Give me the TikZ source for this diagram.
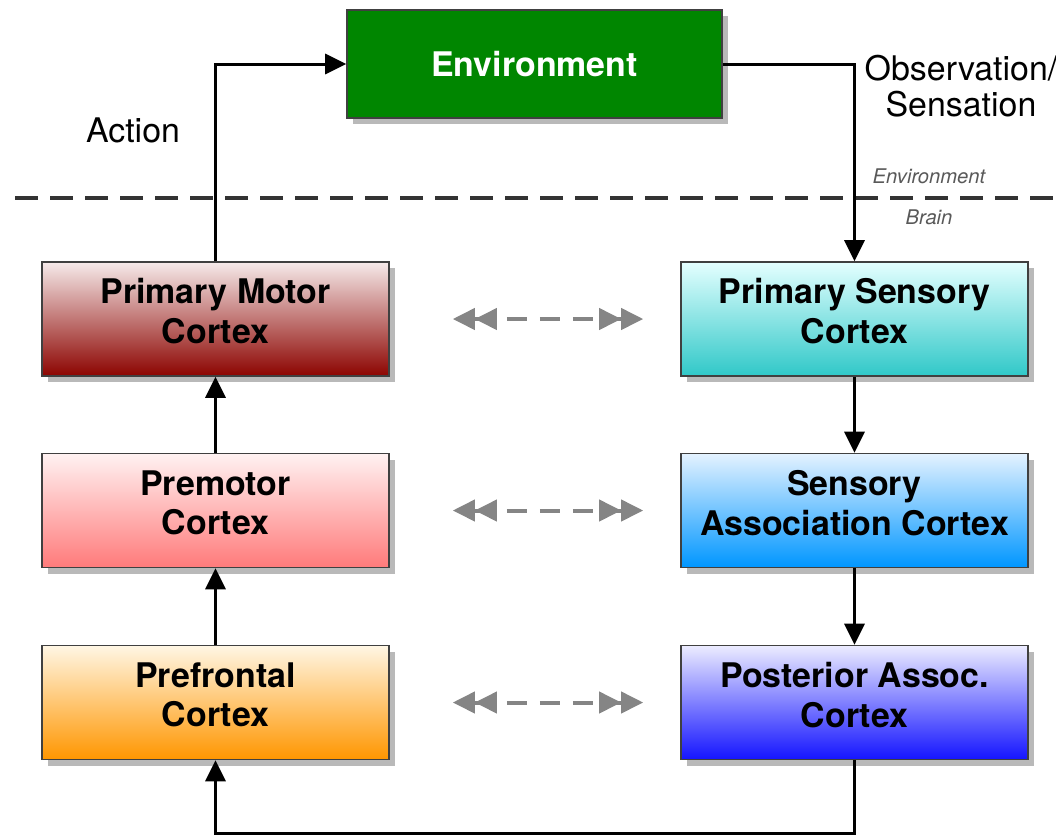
\documentclass[tikz,border=0pt]{standalone}
\usepackage{fontspec}
\setmainfont{TeX Gyre Heros}
\usepackage{xcolor}
\usepackage{tikz}
\usetikzlibrary{arrows.meta, shadows}

\definecolor{envgreen}{RGB}{0,134,0}
\definecolor{motortop}{RGB}{246,234,234}
\definecolor{motorbot}{RGB}{140,4,0}
\definecolor{premtop}{RGB}{255,242,242}
\definecolor{prembot}{RGB}{255,122,122}
\definecolor{preftop}{RGB}{255,246,228}
\definecolor{prefbot}{RGB}{255,150,0}
\definecolor{senstop}{RGB}{228,255,255}
\definecolor{sensbot}{RGB}{48,200,200}
\definecolor{assoctop}{RGB}{228,242,255}
\definecolor{assocbot}{RGB}{0,150,255}
\definecolor{posttop}{RGB}{236,236,255}
\definecolor{postbot}{RGB}{20,20,255}

\begin{document}
\begin{tikzpicture}[
    box/.style={draw=black!75, line width=0.9pt, minimum width=6.94cm, minimum height=2.28cm,
        align=center, font=\bfseries\fontsize{19.3}{22.7}\selectfont,
        drop shadow={shadow xshift=0.12cm, shadow yshift=-0.12cm, fill=black!50, opacity=0.55}},
    cortex/.style={box, text depth=9pt},
    flow/.style={-{Triangle[length=0.42cm, width=0.4cm]}, line width=1.7pt},
    link/.style={{Triangle[length=0.44cm, width=0.42cm]Triangle[length=0.44cm, width=0.42cm]}-{Triangle[length=0.44cm, width=0.42cm]Triangle[length=0.44cm, width=0.42cm]},
        black!48, line width=0.08cm, dash pattern=on 0.4cm off 0.26cm,
        shorten <=1.26cm, shorten >=0.74cm},
    label/.style={font=\fontsize{19.3}{20.5}\selectfont, align=center}
]
    \useasboundingbox (0,0) rectangle (21.12,-16.76);

    % border between environment and brain
    \draw[black!80, line width=0.08cm, dash pattern=on 0.46cm off 0.24cm] (0.3,-3.96) -- (21.12,-3.96);
    \node[font=\itshape\fontsize{11.5}{13}\selectfont, black!65] (envtag) at (18.58,-3.52) {Environment};
    \node[font=\itshape\fontsize{11.5}{13}\selectfont, black!65] (braintag) at (18.58,-4.34) {Brain};

    % boxes
    \node[box, fill=envgreen, text=white, minimum width=7.5cm, minimum height=2.16cm] (env) at (10.69,-1.28) {Environment};

    \node[cortex, top color=motortop, bottom color=motorbot] (motor) at (4.31,-6.38) {Primary Motor\\Cortex};
    \node[cortex, top color=premtop, bottom color=prembot] (premotor) at (4.31,-10.21) {Premotor\\Cortex};
    \node[cortex, top color=preftop, bottom color=prefbot] (prefrontal) at (4.31,-14.05) {Prefrontal\\Cortex};

    \node[cortex, top color=senstop, bottom color=sensbot] (sensory) at (17.09,-6.38) {Primary Sensory\\Cortex};
    \node[cortex, top color=assoctop, bottom color=assocbot] (assoc) at (17.09,-10.21) {Sensory\\Association Cortex};
    \node[cortex, top color=posttop, bottom color=postbot] (posterior) at (17.09,-14.05) {Posterior Assoc.\\Cortex};

    % labels
    \node[label] (action) at (2.66,-2.6) {Action};
    \node[label] (observe) at (19.22,-1.72) {Observation/\\Sensation};

    % main loop
    \draw[flow] (motor.north) |- (env.west);
    \draw[flow] (env.east) -| (sensory.north);
    \draw[flow] (sensory) -- (assoc);
    \draw[flow] (assoc) -- (posterior);
    \draw[flow] (posterior.south) -- ++(0,-1.46) -| (prefrontal.south);
    \draw[flow] (prefrontal) -- (premotor);
    \draw[flow] (premotor) -- (motor);

    % cross links
    \draw[link] (motor.east) -- (sensory.west);
    \draw[link] (premotor.east) -- (assoc.west);
    \draw[link] (prefrontal.east) -- (posterior.west);
\end{tikzpicture}
\end{document}
